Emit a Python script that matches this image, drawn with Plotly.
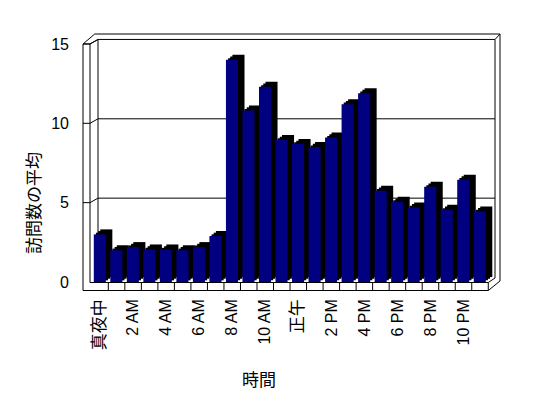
import plotly.graph_objects as go

hours = list(range(24))
values = [3.0, 2.0, 2.2, 2.05, 2.05, 2.0, 2.2, 2.9, 14.0, 10.8, 12.3, 8.95,
          8.7, 8.5, 9.1, 11.2, 11.9, 5.75, 5.05, 4.7, 6.0, 4.55, 6.45, 4.45]
tick_positions = [0, 2, 4, 6, 8, 10, 12, 14, 16, 18, 20, 22]
tick_labels = ["真夜中", "2 AM", "4 AM", "6 AM", "8 AM", "10 AM", "正午",
               "2 PM", "4 PM", "6 PM", "8 PM", "10 PM"]
y_ticks = [0, 5, 10, 15]
y_title = "訪問数の平均"
x_title = "時間"

# page has an 8px body margin: figure is placed at (8, 8)
PAGE_OFF = 8
FIG_W, FIG_H = 548 - 2 * PAGE_OFF, 398 - 2 * PAGE_OFF

# pixel geometry (page coordinates) for the frame decoration
L, R, T, B = 80, 505, 30, 295
CW = 16.52      # px per category
X0 = 91.8       # px of left edge of category 0
SY = 15.87      # px per unit
Y0 = 282.0      # px of value 0 (front)


def X(px):
    return -0.5 + (px - X0) / CW


def Y(py):
    return (Y0 - py) / SY


DX = 6.5 / CW
DY = 5.0 / SY
BAR_OFF, BAR_W = -0.38, 0.73

fig = go.Figure()
# 3-D extrusion: stepped black copies behind the navy front faces
for frac in (1.0, 0.66, 0.33):
    fig.add_trace(go.Bar(x=hours, y=values, base=DY * frac,
                         offset=BAR_OFF + DX * frac, width=BAR_W,
                         marker=dict(color="#000000", line=dict(width=0)),
                         hoverinfo="skip", showlegend=False))
fig.add_trace(go.Bar(x=hours, y=values, base=0, offset=BAR_OFF, width=BAR_W,
                     marker=dict(color="#000080", line=dict(width=0)),
                     showlegend=False))

shapes = []


def seg(x1, y1, x2, y2, layer="above"):
    shapes.append(dict(type="line", xref="x", yref="y",
                       x0=X(x1), y0=Y(y1), x1=X(x2), y1=Y(y2),
                       line=dict(color="black", width=1), layer=layer))


back_dy = 4.5
for v in y_ticks[1:]:
    py_front = Y0 - v * SY
    seg(98, py_front - back_dy, 495, py_front - back_dy, layer="below")
    seg(83, py_front, 90, py_front)
    seg(90, py_front, 98, py_front - back_dy)

# left wall slab
seg(83, 44, 83, 290.5)
seg(90, 44, 90, 282.5)
seg(83, 44, 90, 44)
seg(83, 44, 94.7, 34)
seg(90, 44, 98, 39.5)
seg(94.7, 34, 500, 34)
seg(98, 39.5, 98, 278, layer="below")
# right edges of back wall
seg(495, 39.5, 495, 278)
seg(500, 34, 500, 281)
seg(495, 39.5, 500, 34)
# floor slab front
seg(90, 282.5, 488.3, 282.5)
seg(83, 290.5, 488.3, 290.5)
for k in range(1, 25):
    px = X0 + k * CW
    seg(px, 282.5, px, 290.5)
seg(488.3, 290.5, 500, 281)
seg(488.3, 282.5, 495, 278)

font_family = "Liberation Sans, Arial, Noto Sans CJK JP, sans-serif"


def tick_text(s):
    if any(ord(c) > 0x2E80 for c in s):
        return '<span style="font-size:17px">' + s + '</span>'
    return s


fig.update_layout(
    width=FIG_W, height=FIG_H,
    margin=dict(l=L - PAGE_OFF, r=FIG_W - (R - PAGE_OFF),
                t=T - PAGE_OFF, b=FIG_H - (B - PAGE_OFF), autoexpand=False),
    paper_bgcolor="white", plot_bgcolor="white",
    barmode="overlay",
    shapes=shapes,
    font=dict(family=font_family, size=16, color="black"),
    xaxis=dict(range=[X(L), X(R)], tickmode="array", tickvals=tick_positions,
               ticktext=[tick_text(s) for s in tick_labels], tickangle=-90,
               showgrid=False, zeroline=False, showline=False, ticks="",
               ticklabelstandoff=0, fixedrange=True, automargin=False,
               tickfont=dict(size=16, color="black")),
    yaxis=dict(range=[Y(B), Y(T)], tickmode="array", tickvals=y_ticks,
               showgrid=False, zeroline=False, showline=False, ticks="",
               ticklabelstandoff=10, fixedrange=True, automargin=False),
    annotations=[
        dict(text=y_title, xref="paper", yref="paper",
             x=(32 - L) / (R - L), y=(B - 203) / (B - T), textangle=-90,
             showarrow=False, xanchor="center", yanchor="middle",
             font=dict(size=17, family="Noto Sans CJK JP", color="black")),
        dict(text=x_title, xref="paper", yref="paper",
             x=(259 - L) / (R - L), y=(B - 378) / (B - T),
             showarrow=False, xanchor="center", yanchor="middle",
             font=dict(size=17, family="Noto Sans CJK JP", color="black")),
    ],
)

fig.write_html("out.html")
